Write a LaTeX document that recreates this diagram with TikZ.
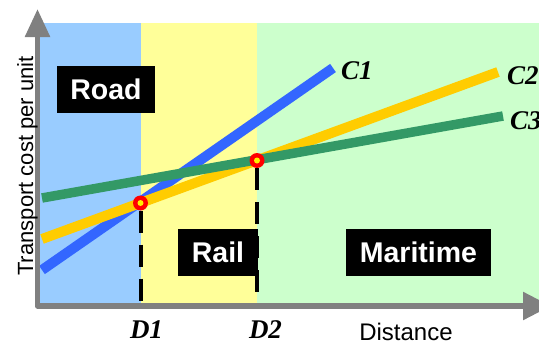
\documentclass[tikz,border=0pt]{standalone}
\usepackage{fontspec}
\setmainfont{Liberation Serif}
\setsansfont{Liberation Sans}
\usetikzlibrary{arrows.meta}
\definecolor{roadbg}{HTML}{99CCFF}
\definecolor{railbg}{HTML}{FFFF99}
\definecolor{seabg}{HTML}{CCFFCC}
\definecolor{cblue}{HTML}{3366FF}
\definecolor{cyellow}{HTML}{FFCC00}
\definecolor{cgreen}{HTML}{339966}
\definecolor{axisgray}{HTML}{808080}
\tikzset{
  costline/.style={line width=10pt, line cap=butt},
  marker/.style={circle, fill=red, minimum size=15pt, inner sep=0pt,
    path picture={\fill[yellow] (path picture bounding box.center) circle (3pt);}},
  dashline/.style={black, line width=4pt, dash pattern=on 22pt off 12pt},
  clabel/.style={font=\fontsize{27}{27}\selectfont\bfseries\itshape, inner sep=0pt},
  modebox/.style={fill=black, text=white, font=\sffamily\bfseries\fontsize{28.5}{28.5}\selectfont,
    inner sep=0pt, minimum height=47pt},
  axislabel/.style={font=\sffamily\fontsize{22}{22}\selectfont, inner sep=0pt}
}
\begin{document}
\begin{tikzpicture}[x=1pt,y=-1pt]
\useasboundingbox (0,0) rectangle (539,343);
\clip (0,0) rectangle (539,343);
% regions
\fill[roadbg] (37,23) rectangle (140.5,306);
\fill[railbg] (140.5,23) rectangle (257,306);
\fill[seabg] (257,23) rectangle (539,306);
% cost lines
\coordinate (c1s) at (42,270);  \coordinate (c1e) at (333,68);
\coordinate (c2s) at (42,239);  \coordinate (c2e) at (498,72);
\coordinate (c3s) at (42,198);  \coordinate (c3e) at (503,116);
\draw[costline, cblue] (c1s) -- (c1e);
\draw[costline, cyellow] (c2s) -- (c2e);
\draw[costline, cgreen, line width=9.5pt] (c3s) -- (c3e);
% labels of lines
\node[clabel, anchor=west] (lc1) at (341,71) {C1};
\node[clabel, anchor=west] (lc2) at (507,76) {C2};
\node[clabel, anchor=west] (lc3) at (510,121) {C3};
% mode boxes
\node[modebox, minimum width=98pt] (road) at (106,89.5) {Road};
\node[modebox, minimum width=80pt] (rail) at (218,252.5) {Rail};
\node[modebox, minimum width=145pt] (sea) at (418.5,252.5) {Maritime};
% break-even markers and dashed lines
\node[marker] (m1) at (140.5,203) {};
\node[marker] (m2) at (257,160.5) {};
\coordinate (a1) at (140.5,306);
\coordinate (a2) at (257,306);
\draw[dashline] (m1) -- (a1);
\draw[dashline] (m2) -- (a2);
% axes
\coordinate (ytip) at (37.5,9);
\coordinate (orig) at (37.5,306);
\coordinate (xtip) at (551,306);
\draw[axisgray, line width=5.5pt, line join=round,
  {Triangle[width=24pt,length=28pt]}-{Triangle[width=27pt,length=28pt]}]
  (ytip) -- (orig) -- (xtip);
% axis labels
\node[axislabel, rotate=90, anchor=base] (ylab) at (33,166) {Transport cost per unit};
\node[axislabel, font=\sffamily\fontsize{24}{24}\selectfont, anchor=base] (xlab) at (406,340) {Distance};
\node[clabel, anchor=base] (d1) at (146.5,338) {D1};
\node[clabel, anchor=base] (d2) at (265.5,338) {D2};
\end{tikzpicture}
\end{document}
